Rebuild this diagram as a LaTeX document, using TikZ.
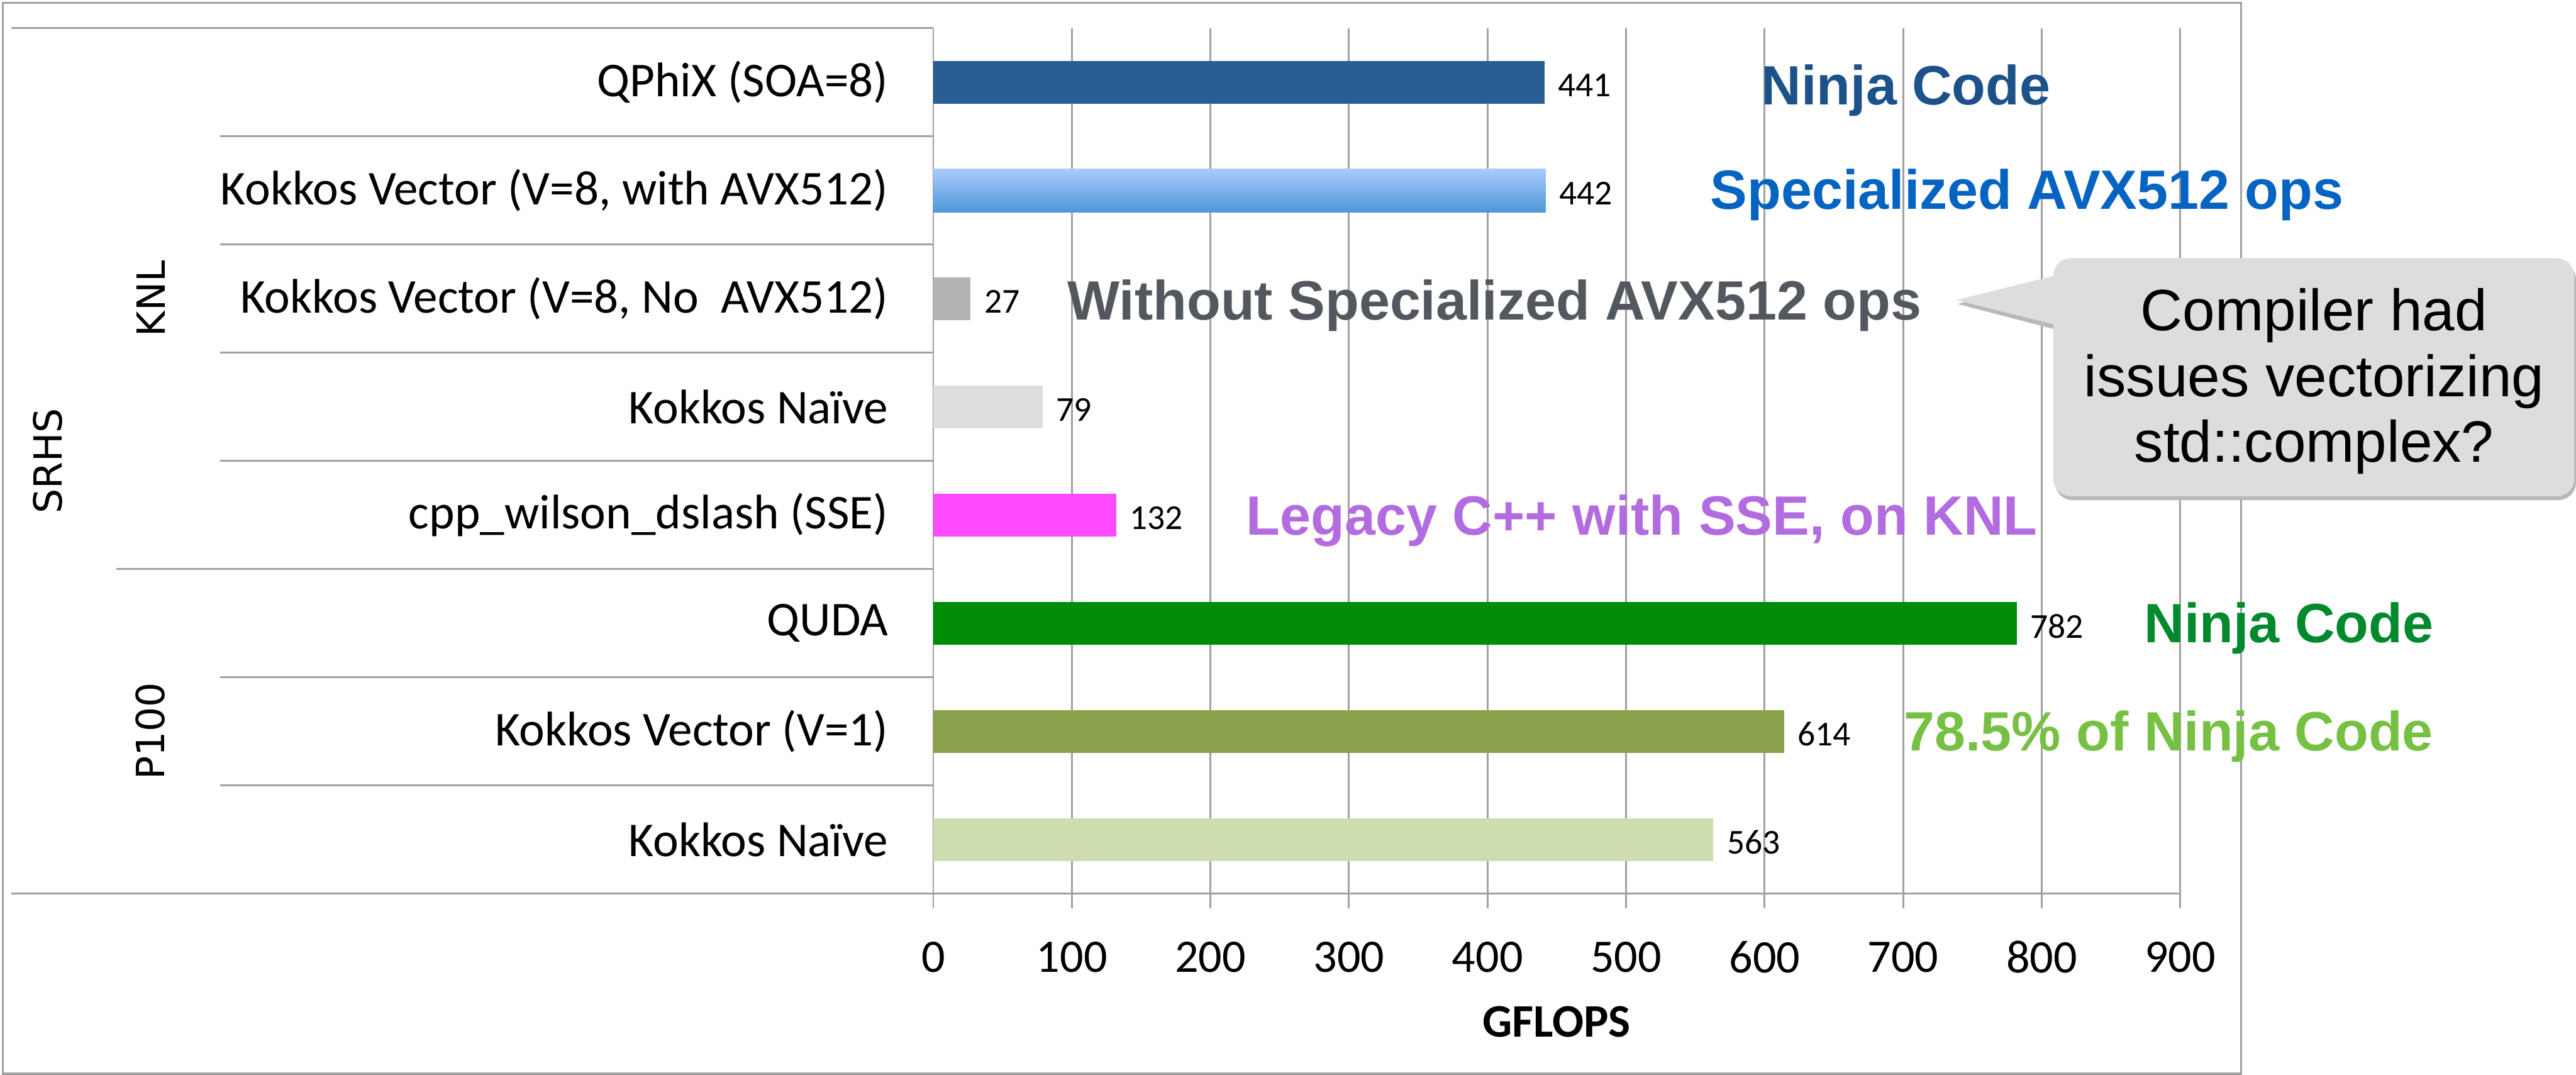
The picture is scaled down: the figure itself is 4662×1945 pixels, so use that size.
\documentclass[tikz,border=0pt]{standalone}
\usepackage{fontspec}
\setmainfont{Carlito}
\newfontfamily\groupfont{DejaVu Sans}
\newfontfamily\notefont{Liberation Sans}

\definecolor{gridgray}{HTML}{A0A0A0}
\definecolor{barqphix}{HTML}{285E91}
\definecolor{baravxtop}{HTML}{A9CCFC}
\definecolor{baravxbot}{HTML}{4F96D9}
\definecolor{barnoavx}{HTML}{B3B3B3}
\definecolor{barnaiveknl}{HTML}{DDDDDD}
\definecolor{barsse}{HTML}{FF4AFF}
\definecolor{barquda}{HTML}{008C08}
\definecolor{barvecgpu}{HTML}{8AA14E}
\definecolor{barnaivegpu}{HTML}{CEDDAF}
\definecolor{noteblue}{HTML}{1C5189}
\definecolor{noteavx}{HTML}{0563C1}
\definecolor{notegray}{HTML}{53585F}
\definecolor{notepurple}{HTML}{B36BE0}
\definecolor{notegreen}{HTML}{00892D}
\definecolor{notelime}{HTML}{76C143}
\definecolor{calloutfill}{HTML}{DCDDDF}

\begin{document}
\begin{tikzpicture}[x=0.01cm, y=-0.01cm,
        axisline/.style={color=gridgray, line width=0.9pt},
        baravx/.style={top color=baravxtop, bottom color=baravxbot},
        catlabel/.style={anchor=east, inner sep=0pt, font=\fontsize{25}{30}\selectfont},
        vallabel/.style={anchor=west, inner sep=0pt, font=\fontsize{18}{22}\selectfont},
        ticklabel/.style={inner sep=0pt, font=\fontsize{24}{29}\selectfont},
        grouplabel/.style={rotate=90, inner sep=0pt, font=\groupfont\fontsize{20}{24}\selectfont},
        note/.style={anchor=base west, inner sep=0pt, font=\notefont\bfseries\fontsize{28.5}{34}\selectfont}]
            \useasboundingbox (0,0) rectangle (4662,1945);
            \draw[axisline, line width=1.1pt] (5,5) rectangle (4056,1943);

            \foreach \k in {0,...,9}
                {
                    \draw[axisline] (1689+250.75*\k, 51) -- (1689+250.75*\k, 1643);
                    \pgfmathtruncatemacro{\t}{100*\k}
                    \node (tick\k) at (1689+250.75*\k, 1732)[ticklabel]{\t};
                }
            \node (xtitle) at (2817, 1849)[ticklabel, font=\bfseries\fontsize{24}{29}\selectfont]{GFLOPS};

            \draw[axisline] (21, 51) -- (1689, 51);
            \draw[axisline] (21, 1617) -- (3946, 1617);
            \foreach \i in {1,2,3,4,6,7}
                \draw[axisline] (398, 51+195.75*\i) -- (1689, 51+195.75*\i);
            \draw[axisline] (210, 1029.75) -- (1689, 1029.75);

            \foreach \i/\v/\s/\lab in {0/441/barqphix/{QPhiX (SOA=8)},
                                        1/442/baravx/{Kokkos Vector (V=8, with AVX512)},
                                        2/27/barnoavx/{Kokkos Vector (V=8, No~ AVX512)},
                                        3/79/barnaiveknl/{Kokkos Naïve~},
                                        4/132/barsse/{cpp\_wilson\_dslash (SSE)},
                                        5/782/barquda/{QUDA},
                                        6/614/barvecgpu/{Kokkos Vector (V=1)},
                                        7/563/barnaivegpu/{Kokkos Naïve}}
                {
                    \fill[\s] (1689, 110+195.75*\i) rectangle (1689+2.5075*\v, 188+195.75*\i);
                    \node (val\i) at (1689+2.5075*\v+24, 154+195.75*\i)[vallabel]{\v};
                    \node (cat\i) at (1608, 149+195.75*\i)[catlabel]{\lab};
                }

            \node (srhs) at (87, 834)[grouplabel]{SRHS};
            \node (knl) at (273, 540)[grouplabel]{KNL};
            \node (p100) at (272, 1323)[grouplabel]{P100};

            \node (ninjaknl) at (3187, 190)[note, noteblue]{Ninja Code};
            \node (avxops) at (3095, 379)[note, noteavx]{Specialized AVX512 ops};
            \node (noavx) at (1931, 579)[note, notegray]{Without Specialized AVX512 ops};
            \node (legacy) at (2255, 968)[note, notepurple]{Legacy C++ with SSE, on KNL};
            \node (ninjagpu) at (3880, 1163)[note, notegreen]{Ninja Code};
            \node (fraction) at (3445, 1358)[note, notelime]{78.5\% of Ninja Code};

            \begin{scope}[shift={(3,7)}]
                \fill[black!28, rounded corners=0.32cm] (3716, 467) rectangle (4659, 898);
                \fill[black!28] (3720, 496) -- (3540, 543) -- (3720, 590) -- cycle;
            \end{scope}
            \fill[calloutfill, rounded corners=0.32cm] (3716, 467) rectangle (4659, 898);
            \fill[calloutfill] (3730, 496) -- (3540, 543) -- (3730, 590) -- cycle;
            \node (compiler) at (4188, 690)[align=center, font=\notefont\fontsize{30}{33.9}\selectfont]{Compiler had\\issues vectorizing\\std::complex?};
        \end{tikzpicture}
\end{document}
